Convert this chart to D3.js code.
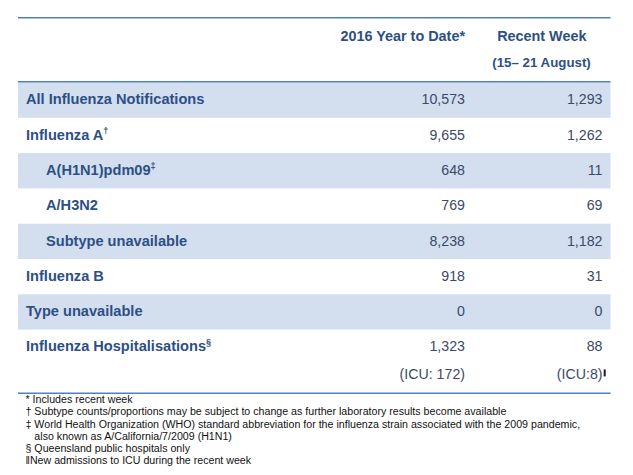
<!DOCTYPE html>
<html>
<head>
<meta charset="utf-8">
<script src="https://cdn.jsdelivr.net/npm/d3@7"></script>
<style>
  body { margin: 0; background: #fff; }
  svg { display: block; font-family: "Liberation Sans", Arial, sans-serif; }
</style>
</head>
<body>
<div id="table"></div>
<script>
// table data
const rowLabels = ["All Influenza Notifications", "Influenza A", "A(H1N1)pdm09", "A/H3N2",
    "Subtype unavailable", "Influenza B", "Type unavailable", "Influenza Hospitalisations"];
const rowMarks = ["", "†", "‡", "", "", "", "", "§"];
const rowIndent = [false, false, true, true, true, false, false, false];
const ytdValues = [10573, 9655, 648, 769, 8238, 918, 0, 1323];
const weekValues = [1293, 1262, 11, 69, 1182, 31, 0, 88];
const columnHeaders = ["2016 Year to Date*", "Recent Week"];
const weekRange = "(15– 21 August)";
const icuNotes = ["(ICU: 172)", "(ICU:8)"];
const footnotes = [
    "* Includes recent week",
    "† Subtype counts/proportions may be subject to change as further laboratory results become available",
    "‡ World Health Organization (WHO) standard abbreviation for the influenza strain associated with the 2009 pandemic,",
    "   also known as A/California/7/2009 (H1N1)",
    "§ Queensland public hospitals only",
    "‖New admissions to ICU during the recent week"
];

const W = 633, H = 475;
const left = 18, right = 610.5;
const lineColor = "#4f81bd", bandColor = "#d3dfee";
const labelColor = "#2d4f86", valueColor = "#3b4a68";

const svg = d3.select("#table").append("svg")
    .attr("width", W)
    .attr("height", H);

// row scale
const y = d3.scaleBand()
    .domain(d3.range(rowLabels.length))
    .range([82.5, 82.5 + 35.3 * rowLabels.length]);

// columns: right edges of the two value columns
const x = d3.scaleOrdinal().domain(["ytd", "week"]).range([465, 602.5]);
const fmt = d3.format(",");

// banded rows
svg.append("g").selectAll("rect")
    .data(d3.range(rowLabels.length).filter(i => i % 2 === 0))
    .join("rect")
    .attr("x", left)
    .attr("y", i => y(i))
    .attr("width", right - left)
    .attr("height", y.bandwidth())
    .attr("fill", bandColor);

// horizontal rules
svg.append("g").selectAll("line")
    .data([17.7, 81.7, 393.3])
    .join("line")
    .attr("x1", left).attr("x2", right)
    .attr("y1", d => d).attr("y2", d => d)
    .attr("stroke", lineColor)
    .attr("stroke-width", 1.6);

// header
let header = svg.append("g")
    .attr("font-weight", "bold")
    .attr("font-size", "14.4px")
    .attr("fill", labelColor);
header.append("text")
    .attr("x", x("ytd")).attr("y", 40.5)
    .attr("text-anchor", "end")
    .text(columnHeaders[0]);
header.append("text")
    .attr("x", 541.8).attr("y", 40.5)
    .attr("text-anchor", "middle")
    .text(columnHeaders[1]);
header.append("text")
    .attr("x", 541.5).attr("y", 66.5)
    .attr("text-anchor", "middle")
    .attr("font-size", "13.3px")
    .text(weekRange);

// row labels
let labels = svg.append("g").selectAll("text")
    .data(rowLabels)
    .join("text")
    .attr("x", (d, i) => rowIndent[i] ? 46 : 26)
    .attr("y", (d, i) => y(i) + 21.8)
    .attr("font-weight", "bold")
    .attr("font-size", "14.6px")
    .attr("fill", labelColor)
    .text(d => d);
labels.filter((d, i) => rowMarks[i] !== "")
    .append("tspan")
    .attr("dy", -6)
    .attr("font-size", "9px")
    .text(d => rowMarks[rowLabels.indexOf(d)]);

// values
let values = svg.append("g")
    .attr("font-size", "14.2px")
    .attr("fill", valueColor)
    .attr("text-anchor", "end");
values.selectAll(".ytd")
    .data(ytdValues)
    .join("text")
    .attr("class", "ytd")
    .attr("x", x("ytd"))
    .attr("y", (d, i) => y(i) + 21.8)
    .text(d => fmt(d));
values.selectAll(".week")
    .data(weekValues)
    .join("text")
    .attr("class", "week")
    .attr("x", x("week"))
    .attr("y", (d, i) => y(i) + 21.8)
    .text(d => fmt(d));

// ICU sub line under hospitalisations
let last = rowLabels.length - 1;
values.append("text")
    .attr("x", x("ytd"))
    .attr("y", y(last) + 49.5)
    .text(icuNotes[0]);
values.append("text")
    .attr("x", x("week"))
    .attr("y", y(last) + 49.5)
    .text(icuNotes[1]);
svg.append("rect")
    .attr("x", x("week") + 1.2)
    .attr("y", y(last) + 39.8)
    .attr("width", 2)
    .attr("height", 7)
    .attr("fill", "#2a1040");

// footnotes
svg.append("g")
    .attr("font-size", "10.65px")
    .attr("fill", "#111")
    .selectAll("text")
    .data(footnotes)
    .join("text")
    .attr("x", 25.5)
    .attr("y", (d, i) => 403.3 + i * 12.1)
    .attr("xml:space", "preserve")
    .style("white-space", "pre")
    .text(d => d);
</script>
</body>
</html>
